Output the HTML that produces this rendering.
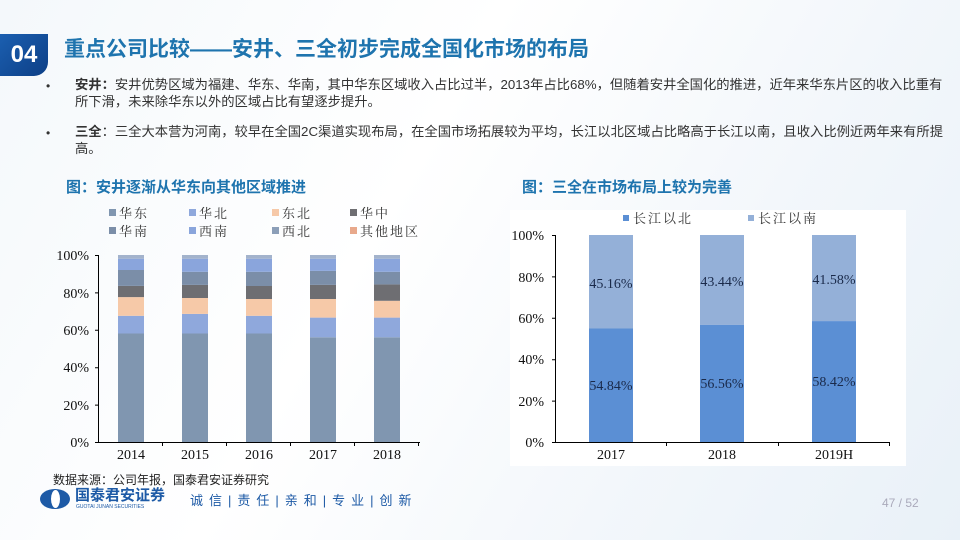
<!DOCTYPE html>
<html><head><meta charset="utf-8"><style>
body{margin:0;width:960px;height:540px;overflow:hidden;background:linear-gradient(120deg,#f4f8fb 0%,#ffffff 40%,#f3f7fb 70%,#e9f1f8 100%);font-family:"Liberation Sans","Noto Sans CJK SC",sans-serif;position:relative}
.t{position:absolute;white-space:nowrap}
</style></head><body>
<div class="t" style="left:0;top:34px;width:48px;height:42px;background:linear-gradient(135deg,#1b5fb0,#0d3f86);border-radius:0 0 14px 0;color:#fff;font-weight:bold;font-size:24px;line-height:42px;text-align:center">04</div>
<div class="t" style="left:64px;top:34px;font-size:21px;font-weight:bold;color:#1e74ae;line-height:32px">重点公司比较——安井、三全初步完成全国化市场的布局</div>
<div class="t" style="left:46px;top:78px;font-size:12px;color:#333;line-height:17px">•</div>
<div class="t" style="left:75px;top:76px;font-size:13.3px;color:#333;line-height:17px"><b>安井：</b>安井优势区域为福建、华东、华南，其中华东区域收入占比过半，2013年占比68%，但随着安井全国化的推进，近年来华东片区的收入比重有<br>所下滑，未来除华东以外的区域占比有望逐步提升。</div>
<div class="t" style="left:46px;top:125px;font-size:12px;color:#333;line-height:17px">•</div>
<div class="t" style="left:75px;top:123px;font-size:13.3px;color:#333;line-height:17px"><b>三全</b>：三全大本营为河南，较早在全国2C渠道实现布局，在全国市场拓展较为平均，长江以北区域占比略高于长江以南，且收入比例近两年来有所提<br>高。</div>
<div class="t" style="left:66px;top:176px;font-size:15px;font-weight:bold;color:#1e74ae">图：安井逐渐从华东向其他区域推进</div>
<div class="t" style="left:522px;top:176px;font-size:15px;font-weight:bold;color:#1e74ae">图：三全在市场布局上较为完善</div>
<div class="t" style="left:510px;top:210px;width:396px;height:256px;background:#fff"></div>
<svg width="960" height="540" style="position:absolute;left:0;top:0" font-family="Liberation Serif,Noto Serif CJK SC,serif">
<g font-size="13" fill="#333" letter-spacing="2">
<rect x="109" y="209" width="7" height="7" fill="#8096b0"/><text x="119" y="218">华东</text>
<rect x="189" y="209" width="7" height="7" fill="#8fa8dc"/><text x="199" y="218">华北</text>
<rect x="272" y="209" width="7" height="7" fill="#f6c9a8"/><text x="282" y="218">东北</text>
<rect x="350" y="209" width="7" height="7" fill="#6e6e72"/><text x="360" y="218">华中</text>
<rect x="109" y="227" width="7" height="7" fill="#7b8ea8"/><text x="119" y="236">华南</text>
<rect x="189" y="227" width="7" height="7" fill="#8aa5dc"/><text x="199" y="236">西南</text>
<rect x="272" y="227" width="7" height="7" fill="#8c9fb8"/><text x="282" y="236">西北</text>
<rect x="350" y="227" width="7" height="7" fill="#e8a98c"/><text x="360" y="236">其他地区</text>
</g>
<g>
<g transform="translate(118,0)"><rect y="333.5" width="26" height="108.5" fill="#8096b0"/><rect y="315.8" width="26" height="17.7" fill="#8fa8dc"/><rect y="297.1" width="26" height="18.7" fill="#f6c9a8"/><rect y="285.9" width="26" height="11.2" fill="#6e6e72"/><rect y="270" width="26" height="15.9" fill="#7b8ea8"/><rect y="258.7" width="26" height="11.3" fill="#8aa5dc"/><rect y="255" width="26" height="3.7" fill="#a3b3cc"/></g>
<g transform="translate(182,0)"><rect y="333.5" width="26" height="108.5" fill="#8096b0"/><rect y="313.9" width="26" height="19.6" fill="#8fa8dc"/><rect y="298" width="26" height="15.9" fill="#f6c9a8"/><rect y="284.9" width="26" height="13.1" fill="#6e6e72"/><rect y="271.8" width="26" height="13.1" fill="#7b8ea8"/><rect y="258.7" width="26" height="13.1" fill="#8aa5dc"/><rect y="255" width="26" height="3.7" fill="#a3b3cc"/></g>
<g transform="translate(246,0)"><rect y="333.5" width="26" height="108.5" fill="#8096b0"/><rect y="315.8" width="26" height="17.7" fill="#8fa8dc"/><rect y="299" width="26" height="16.8" fill="#f6c9a8"/><rect y="286" width="26" height="13" fill="#6e6e72"/><rect y="271.8" width="26" height="14.2" fill="#7b8ea8"/><rect y="258.7" width="26" height="13.1" fill="#8aa5dc"/><rect y="255" width="26" height="3.7" fill="#a3b3cc"/></g>
<g transform="translate(310,0)"><rect y="337.3" width="26" height="104.7" fill="#8096b0"/><rect y="317.6" width="26" height="19.7" fill="#8fa8dc"/><rect y="299" width="26" height="18.6" fill="#f6c9a8"/><rect y="284.9" width="26" height="14.1" fill="#6e6e72"/><rect y="270.9" width="26" height="14" fill="#7b8ea8"/><rect y="258.7" width="26" height="12.2" fill="#8aa5dc"/><rect y="255" width="26" height="3.7" fill="#a3b3cc"/></g>
<g transform="translate(374,0)"><rect y="337.3" width="26" height="104.7" fill="#8096b0"/><rect y="317.6" width="26" height="19.7" fill="#8fa8dc"/><rect y="300.8" width="26" height="16.8" fill="#f6c9a8"/><rect y="284.4" width="26" height="16.4" fill="#6e6e72"/><rect y="271.8" width="26" height="12.6" fill="#7b8ea8"/><rect y="258.7" width="26" height="13.1" fill="#8aa5dc"/><rect y="255" width="26" height="3.7" fill="#a3b3cc"/></g>
</g>
<g stroke="#000" stroke-width="1" fill="none">
<path d="M98.5 255V442.5H420"/>
<path d="M95 255.5h4M95 292.9h4M95 330.3h4M95 367.7h4M95 405.1h4M95 442.5h4"/>
<path d="M162.5 442v4M226.5 442v4M290.5 442v4M354.5 442v4M418.5 442v4"/>
</g>
<g font-size="14" fill="#111" text-anchor="end">
<text x="89" y="260">100%</text><text x="89" y="298">80%</text><text x="89" y="335">60%</text><text x="89" y="372">40%</text><text x="89" y="410">20%</text><text x="89" y="447">0%</text>
</g>
<g font-size="14" fill="#111" text-anchor="middle">
<text x="131" y="459">2014</text><text x="195" y="459">2015</text><text x="259" y="459">2016</text><text x="323" y="459">2017</text><text x="387" y="459">2018</text>
</g>
<g font-size="13" fill="#333" letter-spacing="2">
<rect x="623" y="215" width="6" height="6" fill="#5b8fd4"/><text x="633" y="223">长江以北</text>
<rect x="748" y="215" width="6" height="6" fill="#94b0d8"/><text x="758" y="223">长江以南</text>
</g>
<rect x="589" y="235" width="44" height="93.5" fill="#94b0d8"/><rect x="589" y="328.5" width="44" height="113.5" fill="#5b8fd4"/>
<rect x="700" y="235" width="44" height="89.9" fill="#94b0d8"/><rect x="700" y="324.9" width="44" height="117.1" fill="#5b8fd4"/>
<rect x="812" y="235" width="44" height="86.1" fill="#94b0d8"/><rect x="812" y="321.1" width="44" height="120.9" fill="#5b8fd4"/>
<g stroke="#000" stroke-width="1" fill="none">
<path d="M555.5 235V442.5H890"/>
<path d="M552 235.5h4M552 276.9h4M552 318.3h4M552 359.7h4M552 401.1h4M552 442.5h4"/>
<path d="M666.5 442v4M778.5 442v4M889.5 442v4"/>
</g>
<g font-size="14" fill="#111" text-anchor="end">
<text x="544" y="240">100%</text><text x="544" y="282">80%</text><text x="544" y="323">60%</text><text x="544" y="364">40%</text><text x="544" y="406">20%</text><text x="544" y="447">0%</text>
</g>
<g font-size="14" fill="#1a2a4a" text-anchor="middle">
<text x="611" y="288">45.16%</text><text x="722" y="286">43.44%</text><text x="834" y="284">41.58%</text>
<text x="611" y="390">54.84%</text><text x="722" y="388">56.56%</text><text x="834" y="386">58.42%</text>
</g>
<g font-size="14" fill="#111" text-anchor="middle">
<text x="611" y="459">2017</text><text x="722" y="459">2018</text><text x="834" y="459">2019H</text>
</g>
</svg>
<div class="t" style="left:53px;top:471px;font-size:12px;color:#222">数据来源：公司年报，国泰君安证券研究</div>
<div class="t" style="left:40px;top:489px;width:30px;height:20px;border-radius:50%;background:#1d5aa6"></div>
<div class="t" style="left:51px;top:490px;width:9px;height:18px;border-radius:50%;background:#fff"></div>
<div class="t" style="left:75px;top:487px;font-size:15px;font-weight:bold;color:#1d5aa6;line-height:17px">国泰君安证券</div>
<div class="t" style="left:76px;top:504px;font-size:5px;color:#1d5aa6">GUOTAI JUNAN SECURITIES</div>
<div class="t" style="left:190px;top:490px;font-size:13px;color:#1d5aa6;letter-spacing:6px">诚信|责任|亲和|专业|创新</div>
<div class="t" style="left:882px;top:496px;font-size:12px;color:#aab">47 / 52</div>
</body></html>
